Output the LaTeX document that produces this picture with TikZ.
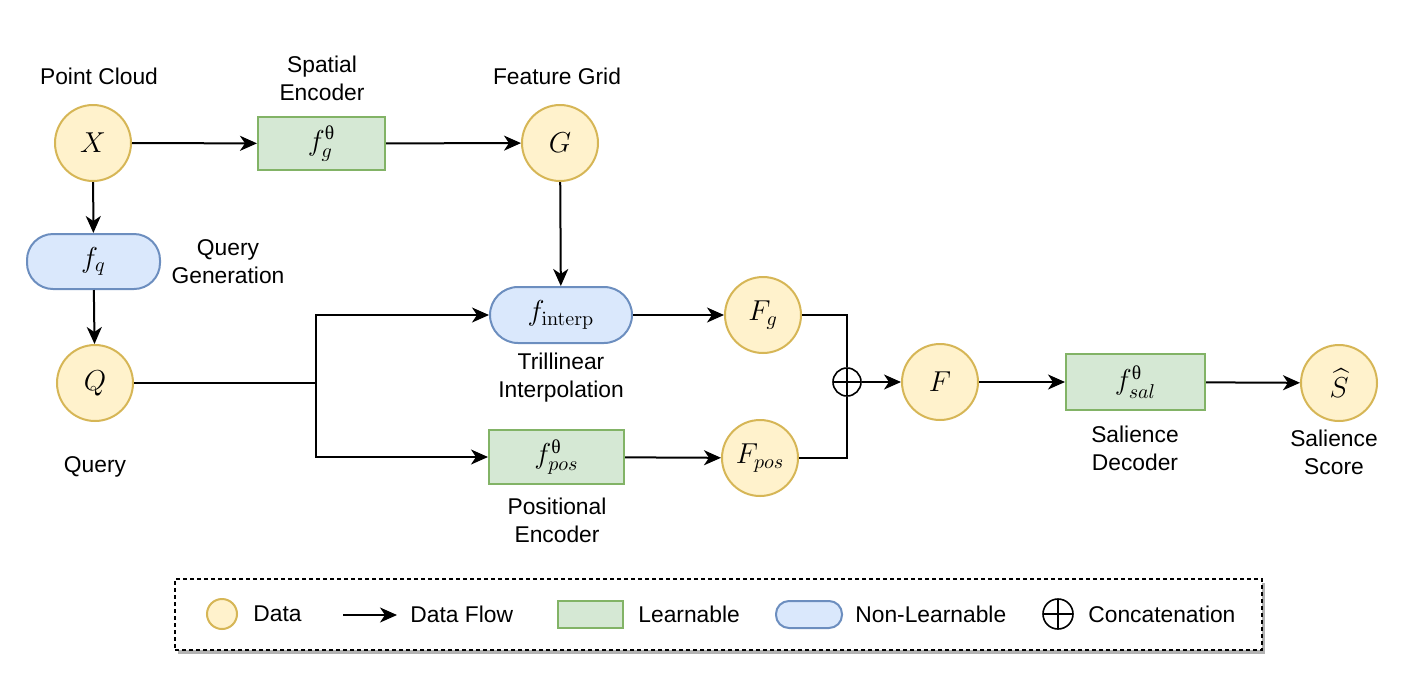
\documentclass[tikz,border=0pt]{standalone}
\usepackage{amsmath}
\usepackage[no-math]{fontspec}
\newfontfamily\lab{Liberation Sans}
\newfontfamily\grk{Liberation Serif}
\usetikzlibrary{arrows.meta,shadows}
\newcommand\thx{\text{\grk θ}}
\definecolor{dfill}{HTML}{FFF2CC}
\definecolor{dline}{HTML}{D6B656}
\definecolor{lfill}{HTML}{D5E8D4}
\definecolor{lline}{HTML}{82B366}
\definecolor{nfill}{HTML}{DAE8FC}
\definecolor{nline}{HTML}{6C8EBF}
\tikzset{
  mathfont/.style={font=\fontsize{14}{16}\selectfont},
  data/.style={circle, draw=dline, fill=dfill, line width=1pt, minimum size=38pt, inner sep=0pt, mathfont},
  learn/.style={rectangle, draw=lline, fill=lfill, line width=1pt, inner sep=0pt, mathfont},
  nonlearn/.style={rectangle, rounded corners=13pt, draw=nline, fill=nfill, line width=1pt, inner sep=0pt, mathfont},
  cat/.style={circle, draw=black, line width=0.8pt, minimum size=14pt, inner sep=0pt,
    path picture={\draw[line width=0.8pt] (path picture bounding box.north) -- (path picture bounding box.south) (path picture bounding box.west) -- (path picture bounding box.east);}},
  lbl/.style={inner sep=0pt, align=center, font=\lab\fontsize{11.4}{14}\selectfont},
  flow/.style={line width=1pt, -{Stealth[length=8.5pt, width=7.5pt, inset=2.5pt]}},
  conn/.style={line width=1pt},
  legendbox/.style={draw=black, fill=white, line width=0.8pt, dash pattern=on 2pt off 1.5pt,
    drop shadow={shadow xshift=1.5pt, shadow yshift=-1.8pt, fill=black!30, opacity=1}},
}
\begin{document}
\begin{tikzpicture}[x=0.5pt,y=-0.5pt]
\useasboundingbox (0,0) rectangle (1425,687);
% main nodes
\node[data] (X) at (93,143) {$X$};
\node[lbl] (lX) at (99,76) {Point Cloud};
\node[learn, minimum width=63.5pt, minimum height=26.5pt] (fg) at (321.5,143.5) {$f_g^{\thx}$};
\node[lbl] (lfg) at (322,78) {Spatial\\Encoder};
\node[data] (G) at (560,143) {$G$};
\node[lbl] (lG) at (557,76) {Feature Grid};
\node[nonlearn, minimum width=66.5pt, minimum height=27.5pt] (fq) at (93.5,261.5) {$f_q$};
\node[lbl] (lfq) at (228,262) {Query\\Generation};
\node[data] (Q) at (95,383) {$Q$};
\node[lbl] (lQ) at (95,467) {Query};
\node[nonlearn, minimum width=71pt, minimum height=28pt, rounded corners=14pt] (fi) at (561,315) {$f_{\mathrm{interp}}$};
\node[lbl] (lfi) at (561,378) {Trillinear\\Interpolation};
\node[learn, minimum width=67.5pt, minimum height=27pt] (fp) at (556.5,457) {$f_{pos}^{\thx}$};
\node[lbl] (lfp) at (557,520.5) {Positional\\Encoder};
\node[data] (Fg) at (763,315) {$F_g$};
\node[data] (Fp) at (760,458) {$F_{pos}$};
\node[cat] (cat) at (847,382) {};
\node[data] (F) at (940,382) {$F$};
\node[learn, minimum width=69.5pt, minimum height=28pt] (fs) at (1135.5,382) {$f_{sal}^{\thx}$};
\node[lbl] (lfs) at (1135,448) {Salience\\Decoder};
\node[data] (S) at (1339,383) {$\widehat{S}$};
\node[lbl] (lS) at (1334,452) {Salience\\Score};
% connectors
\draw[flow] (X) -- (fg);
\draw[flow] (fg) -- (G);
\draw[flow] (X) -- (fq);
\draw[flow] (fq) -- (Q);
\draw[flow] (G) -- (fi);
\coordinate (j) at (316,383);
\draw[conn] (Q.east) -- (j);
\draw[flow] (j) |- (fi.west);
\draw[flow] (j) |- (fp.west);
\draw[flow] (fi) -- (Fg);
\draw[flow] (fp) -- (Fp);
\draw[conn] (Fg.east) -| (cat.north);
\draw[conn] (Fp.east) -| (cat.south);
\draw[flow] (cat) -- (F);
\draw[flow] (F) -- (fs);
\draw[flow] (fs) -- (S);
% legend
\node[legendbox, minimum width=543.5pt, minimum height=35.5pt, inner sep=0pt] (leg) at (718.5,614.5) {};
\node[data, minimum size=15pt] (ld) at (222,614) {};
\node[lbl, anchor=west] (ldt) at (253,614) {Data};
\coordinate (la1) at (343,615);
\coordinate (la2) at (397,615);
\draw[flow] (la1) -- (la2);
\node[lbl, anchor=west] (lat) at (410,614) {Data Flow};
\node[learn, minimum width=32.5pt, minimum height=13.5pt] (ll) at (590.5,614.5) {};
\node[lbl, anchor=west] (llt) at (638,614) {Learnable};
\node[nonlearn, rounded corners=6.5pt, minimum width=33pt, minimum height=13.5pt] (ln) at (809,614.5) {};
\node[lbl, anchor=west] (lnt) at (855,614) {Non-Learnable};
\node[cat, minimum size=15pt] (lc) at (1058,614) {};
\node[lbl, anchor=west] (lct) at (1088,614) {Concatenation};
\end{tikzpicture}
\end{document}
